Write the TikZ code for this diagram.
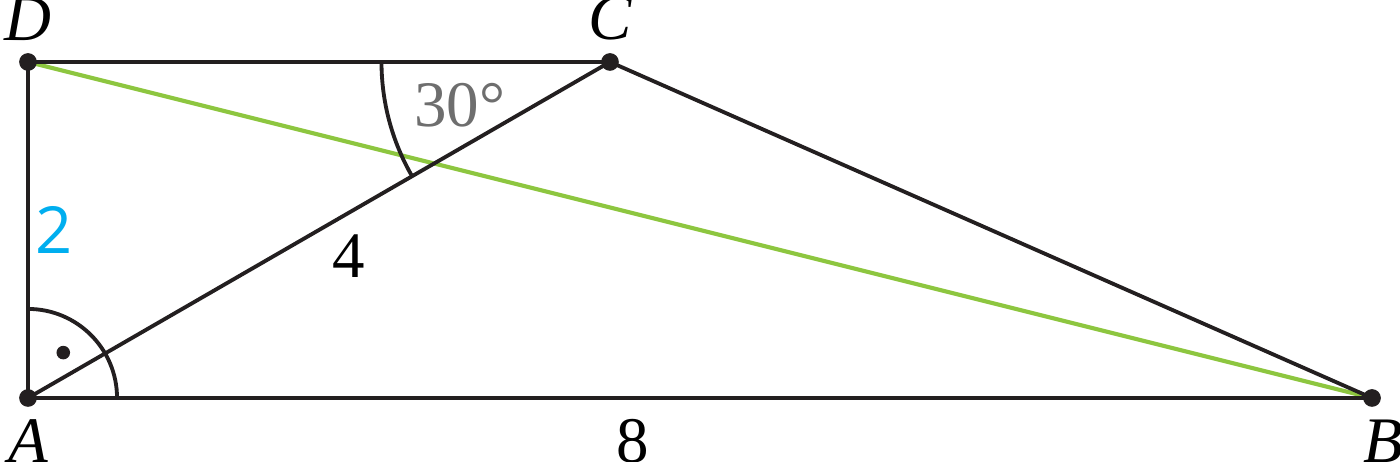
\documentclass[tikz,border=0pt]{standalone}
\usepackage{fontspec}
\setmainfont{Liberation Serif}
\newfontfamily\handfont{Open Sans}
\usepackage{tikz}
\definecolor{inkblack}{RGB}{35,31,32}
\definecolor{diaggreen}{RGB}{141,198,63}
\definecolor{sideblue}{RGB}{0,174,239}
\definecolor{anglegray}{RGB}{110,110,110}

\begin{document}
\begin{tikzpicture}[line width=0.65pt, draw=inkblack, font=\fontsize{11}{13}\selectfont]
		\useasboundingbox (-0.1667,-0.381) rectangle (8.1667,2.369);
		\coordinate[label=below:\textit{A}] (A) at (0,0);
		\coordinate[label={[xshift=2pt]below:\textit{B}}] (B) at (8,0);
		\coordinate[label=above:\textit{C}] (C) at ({2*sqrt(3)},2);
		\coordinate[label=above:\textit{D}] (D) at (0,2);
		\draw [diaggreen, line width=0.7pt] (D) -- (B);
		\draw (A) -- node[below, pos=0.45] {8} (B);
		\draw (B) -- (C);
		\draw (C) -- (D);
		\draw (D) -- node[right, inner sep=1pt, sideblue] {\handfont 2} (A);
		\draw (A) -- node[below right, inner sep=1pt, pos=0.51] {4} (C);
		% angle marks
		\draw ([shift={(180:1.36)}]C) arc[start angle=180, end angle=210, radius=1.36];
		\path (C) ++(196:0.93) node (ang) [anglegray] {30°};
		\draw ([shift={(0:0.53)}]A) arc[start angle=0, end angle=90, radius=0.53];
		\fill [inkblack] (0.21,0.27) circle (1.15pt);
		\fill [inkblack] (A) circle (1.5pt);
		\fill [inkblack] (B) circle (1.5pt);
		\fill [inkblack] (C) circle (1.5pt);
		\fill [inkblack] (D) circle (1.5pt);
	\end{tikzpicture}
\end{document}
